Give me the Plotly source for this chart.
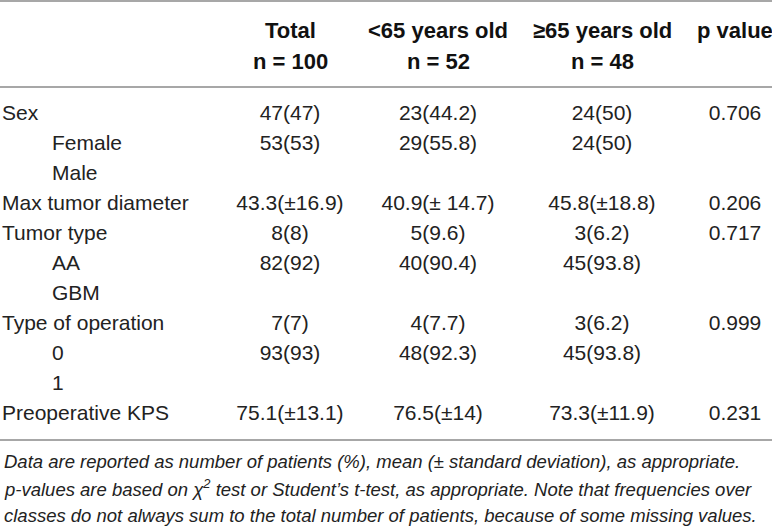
import plotly.graph_objects as go

# table content
row_labels = ["Sex", "Female", "Male", "Max tumor diameter", "Tumor type", "AA", "GBM",
              "Type of operation", "0", "1", "Preoperative KPS"]
row_levels = [0, 1, 1, 0, 0, 1, 1, 0, 1, 1, 0]
total = ["47(47)", "53(53)", "", "43.3(±16.9)", "8(8)", "82(92)", "", "7(7)", "93(93)", "", "75.1(±13.1)"]
under65 = ["23(44.2)", "29(55.8)", "", "40.9(± 14.7)", "5(9.6)", "40(90.4)", "", "4(7.7)", "48(92.3)", "", "76.5(±14)"]
over65 = ["24(50)", "24(50)", "", "45.8(±18.8)", "3(6.2)", "45(93.8)", "", "3(6.2)", "45(93.8)", "", "73.3(±11.9)"]
p_values = ["0.706", "", "", "0.206", "0.717", "", "", "0.999", "", "", "0.231"]
col_headers = ["Total", "<65 years old", "≥65 years old", "p value"]
col_sizes = ["n = 100", "n = 52", "n = 48", ""]
footnote = [
    "Data are reported as number of patients (%), mean (± standard deviation), as appropriate.",
    "p-values are based on χ<sup>2</sup> test or Student’s t-test, as appropriate. Note that frequencies over",
    "classes do not always sum to the total number of patients, because of some missing values.",
]

W, H = 772, 530
col_x = [290, 438, 602, 735]
row_y0, row_step = 114.5, 30
head_y = [30, 61]
rule_y = [1, 87, 440]
foot_y0, foot_step = 461, 27
font = "Liberation Sans, Arial, sans-serif"

rows_y = [row_y0 + i * row_step for i in range(len(row_labels))]

fig = go.Figure()

# row labels, indented by level
fig.add_trace(go.Scatter(
    x=[2 + 50 * lv for lv in row_levels], y=rows_y, text=row_labels,
    mode="text", textposition="middle right", cliponaxis=False,
    textfont=dict(family=font, size=21, color="#222"), hoverinfo="skip"))

for cx, col in zip(col_x, [total, under65, over65, p_values]):
    ys = [y for y, t in zip(rows_y, col) if t]
    ts = [t for t in col if t]
    fig.add_trace(go.Scatter(
        x=[cx] * len(ts), y=ys, text=ts, mode="text", textposition="middle center",
        cliponaxis=False, textfont=dict(family=font, size=21, color="#222"), hoverinfo="skip"))

# header
for cx, h, n in zip(col_x, col_headers, col_sizes):
    for yy, t in zip(head_y, [h, n]):
        if t:
            fig.add_annotation(x=cx, y=yy, text="<b>" + t.replace("<", "&lt;") + "</b>",
                               showarrow=False, xanchor="center", yanchor="middle",
                               font=dict(family=font, size=22, color="#111"))

for ry in rule_y:
    fig.add_shape(type="line", x0=0, x1=W, y0=ry, y1=ry,
                  line=dict(color="#8a8a8a", width=1.6))

for i, line in enumerate(footnote):
    fig.add_annotation(x=2, y=foot_y0 + i * foot_step, text="<i>" + line + "</i>",
                       showarrow=False, xanchor="left", yanchor="middle",
                       font=dict(family=font, size=18.5, color="#222"))

fig.update_xaxes(range=[0, W], visible=False, fixedrange=True)
fig.update_yaxes(range=[H, 0], visible=False, fixedrange=True)
fig.update_layout(width=W, height=H, margin=dict(l=0, r=0, t=0, b=0),
                  plot_bgcolor="white", paper_bgcolor="white", showlegend=False)

fig.write_html("out.html", config={"displayModeBar": False},
               post_script="document.body.style.margin='0';")
